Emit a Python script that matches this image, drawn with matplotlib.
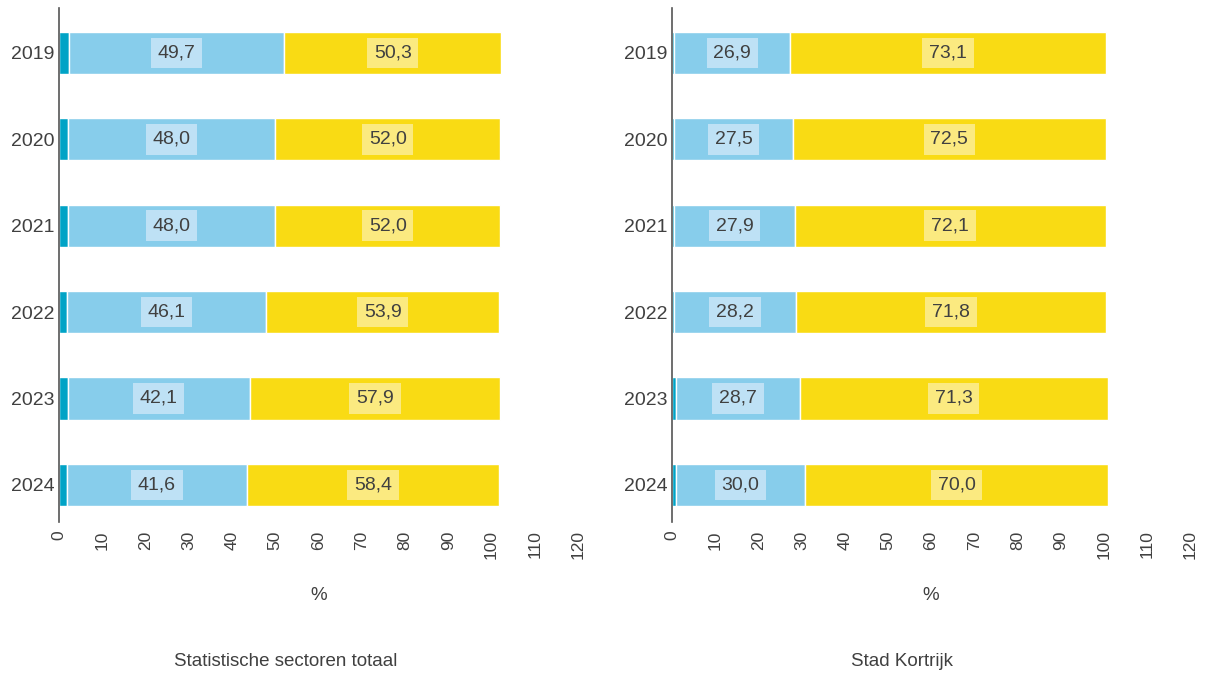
import matplotlib
matplotlib.use("Agg")
import matplotlib.pyplot as plt

years = ["2019", "2020", "2021", "2022", "2023", "2024"]

# Left panel: Statistische sectoren totaal
left_unknown = [2.3, 2.0, 2.0, 1.8, 2.0, 1.8]
left_blue = [49.7, 48.0, 48.0, 46.1, 42.1, 41.6]
left_yellow = [50.3, 52.0, 52.0, 53.9, 57.9, 58.4]

# Right panel: Stad Kortrijk
right_unknown = [0.5, 0.5, 0.5, 0.5, 0.9, 0.9]
right_blue = [26.9, 27.5, 27.9, 28.2, 28.7, 30.0]
right_yellow = [73.1, 72.5, 72.1, 71.8, 71.3, 70.0]

titles = ["Statistische sectoren totaal", "Stad Kortrijk"]
xticks = list(range(0, 121, 10))

plt.rcParams["font.family"] = ["Liberation Sans", "DejaVu Sans"]

C_TEAL = "#00A3C6"
C_BLUE = "#87CDEB"
C_YEL = "#F9DB14"
C_TXT = "#404040"

W, H = 1206, 676
fig = plt.figure(figsize=(W / 100, H / 100), dpi=100)

def px_axes(x0, x1, y0, y1):
    return fig.add_axes([x0 / W, 1 - y1 / H, (x1 - x0) / W, (y1 - y0) / H])

panels = [
    (px_axes(59, 578, 8, 522), left_unknown, left_blue, left_yellow, 286),
    (px_axes(672, 1190, 8, 522), right_unknown, right_blue, right_yellow, 902),
]

for (ax, unk, blue, yel, tx), title in zip(panels, titles):
    ypos = list(range(len(years)))
    h = 0.49
    ax.barh(ypos, unk, height=h, color=C_TEAL, edgecolor="white", linewidth=1)
    ax.barh(ypos, blue, left=unk, height=h, color=C_BLUE, edgecolor="white", linewidth=1)
    lefts2 = [u + b for u, b in zip(unk, blue)]
    ax.barh(ypos, yel, left=lefts2, height=h, color=C_YEL, edgecolor="white", linewidth=1)
    for i in ypos:
        ax.text(unk[i] + blue[i] / 2, i, f"{blue[i]:.1f}".replace(".", ","),
                ha="center", va="center", fontsize=14, color=C_TXT,
                bbox=dict(boxstyle="square,pad=0.35", fc="#BEE1F5", ec="none"))
        ax.text(lefts2[i] + yel[i] / 2, i, f"{yel[i]:.1f}".replace(".", ","),
                ha="center", va="center", fontsize=14, color=C_TXT,
                bbox=dict(boxstyle="square,pad=0.35", fc="#FBEA80", ec="none"))
    ax.set_xlim(0, 120)
    ax.set_ylim(5.43, -0.52)
    ax.set_yticks(ypos)
    ax.set_yticklabels(years, fontsize=14, color=C_TXT)
    ax.set_xticks(xticks)
    ax.set_xticklabels([str(t) for t in xticks], rotation=90, fontsize=12.5, color=C_TXT)
    ax.tick_params(axis="y", length=0, pad=3)
    ax.tick_params(axis="x", length=0, pad=6)
    for s in ["top", "right", "bottom"]:
        ax.spines[s].set_visible(False)
    ax.spines["left"].set_color("#555555")
    ax.spines["left"].set_linewidth(1.2)
    ax.set_xlabel("%", fontsize=13.5, color=C_TXT, labelpad=20)
    fig.text(tx / W, 1 - 662 / H, title, ha="center", va="center", fontsize=13.5, color=C_TXT)

fig.savefig("out.png", dpi=100)
